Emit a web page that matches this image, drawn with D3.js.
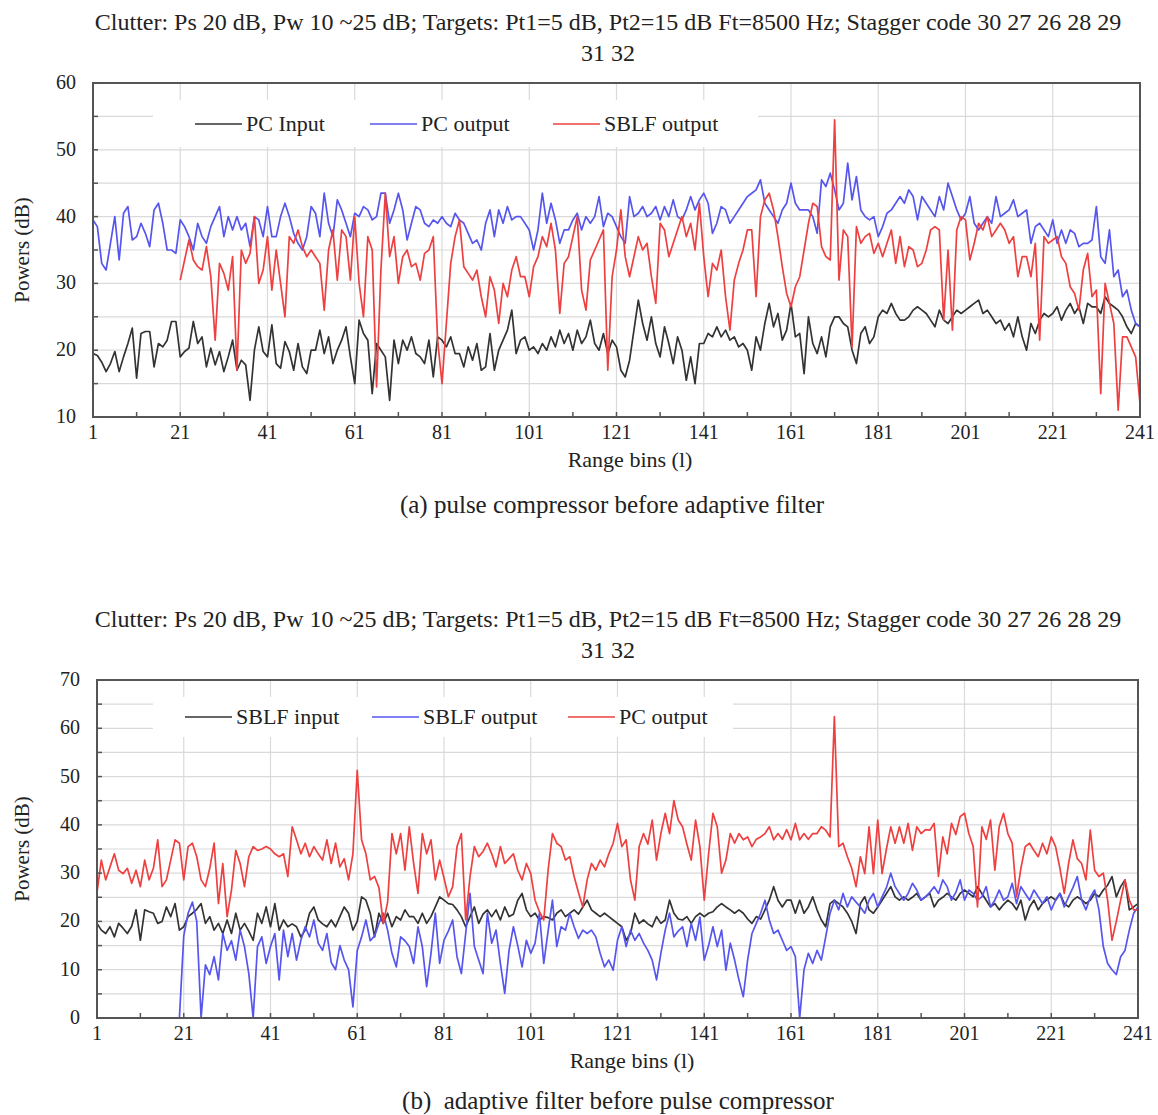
<!DOCTYPE html>
<html>
<head>
<meta charset="utf-8">
<script src="https://cdn.jsdelivr.net/npm/d3@7"></script>
<style>
  body { margin: 0; background: #fff; }
  svg text { font-family: 'Liberation Serif', 'Times New Roman', serif; fill: #222; }
</style>
</head>
<body>
<script>
// shared labels
const titleLine1 = 'Clutter: Ps 20 dB, Pw 10 ~25 dB; Targets: Pt1=5 dB, Pt2=15 dB Ft=8500 Hz; Stagger code 30 27 26 28 29';
const titleLine2 = '31 32';
const xTickLabels = [1, 21, 41, 61, 81, 101, 121, 141, 161, 181, 201, 221, 241];
const xName = 'Range bins (l)';
const yName = 'Powers (dB)';

// panel (a): pulse compressor before adaptive filter
const captionA = '(a) pulse compressor before adaptive filter';
const yTicksA = [10, 20, 30, 40, 50, 60];
const legendA = ['PC Input', 'PC output', 'SBLF output'];
const pcInputA = [
  19.5, 19.2, 18.2, 16.8, 18, 19.8, 16.8, 19, 21, 23.3,
  15.8, 22.5, 22.8, 22.8, 17.5, 21, 20.5, 21.5, 24.3, 24.3,
  19, 19.8, 20.3, 24.3, 21, 22, 17.5, 20.3, 17.8, 19.8,
  16.8, 19, 21.5, 17, 18.5, 17.8, 12.5, 20, 23.5, 19.8,
  19, 23.8, 18, 17.3, 21.3, 19.8, 17, 21, 17.5, 16.5,
  20, 20, 23, 19.5, 22, 18, 20, 21.5, 23.5, 19,
  15, 24.5, 22.5, 21.5, 13.5, 21, 20, 19, 12.5, 21.5,
  18, 21.5, 20, 22, 19.5, 19, 18, 21.5, 16, 22,
  21.5, 20.5, 22, 19.5, 19.5, 17.5, 20.5, 18.5, 21, 17,
  17.5, 22.5, 17, 20, 21.5, 23, 26, 19.5, 21.5, 22,
  20, 20.5, 19.5, 21, 20, 22, 20.5, 23, 21, 22.5,
  20, 23, 21, 22, 24.5, 21, 20, 22.5, 19.5, 21.5,
  20.5, 17, 16, 18.5, 23, 27.5, 24, 21.5, 25, 21,
  19, 23.5, 21, 18, 22, 20, 15.5, 19, 15, 21,
  21, 22.5, 22, 23.5, 22, 23, 21.5, 22, 20.5, 21,
  20, 17, 22, 20, 24, 27, 23.5, 25.5, 21.5, 23,
  27, 22, 22.5, 16.5, 25, 21, 19.5, 22, 19, 23.5,
  25, 25, 24, 23.5, 20, 18, 22.5, 23.5, 21, 22,
  25, 26, 25.5, 27, 25.5, 24.5, 24.5, 25, 26, 26.5,
  26, 25.5, 24.5, 23.5, 26, 24.5, 24, 25, 26, 25.5,
  26, 26.5, 27, 27.5, 25.5, 26, 25, 24, 24.5, 23,
  24, 22, 25, 22, 20, 24, 22.5, 24.5, 25.5, 25,
  25.5, 26.5, 24.5, 26, 27, 25.5, 26.5, 24, 27, 26.5,
  26.5, 25.5, 28, 27, 26.5, 26, 25, 23.5, 22.5, 24,
  23.5,
];
const pcOutputA = [
  39.5, 38.5, 33, 32, 36, 40, 33.5, 40.5, 41.5, 36.5,
  37, 39, 37.5, 35.5, 41, 42, 39, 35, 35, 34.5,
  39.5, 38.5, 37, 35, 39, 37, 36, 38.5, 40, 41.5,
  37, 40, 38, 40, 38, 39, 35.5, 40, 39.5, 37,
  41.5, 37, 37, 40, 42, 40, 37.5, 36, 35, 37,
  41.5, 40.5, 37, 43.5, 39, 37, 42.5, 41, 39, 37,
  40.5, 40, 41.5, 41, 39.5, 40, 43.5, 43.5, 39, 41,
  43.5, 41, 36.5, 39, 41.5, 41, 39, 38.5, 39.5, 39,
  40, 39, 38.5, 40.5, 39.5, 39, 37.5, 36, 36.5, 35,
  39, 41, 37, 41, 39, 41.5, 39.5, 40, 40, 39,
  38, 35, 38, 43.5, 39, 42, 39.5, 36, 38, 38,
  39.5, 40.5, 38, 40, 39, 40, 43, 38.5, 40.5, 40,
  38.5, 37, 36, 43, 40, 40.5, 41.5, 40, 40.5, 41.5,
  39.5, 41.5, 40, 42.5, 40, 39.5, 41, 43, 41, 42.5,
  43.5, 42, 37.5, 39, 41.5, 41, 39, 40, 41, 42,
  43, 43.5, 44, 45.5, 42, 41, 40, 39, 41, 42,
  45, 42, 41, 41, 41, 40, 37.5, 45.5, 44.5, 46.5,
  44, 41, 42, 48, 42.5, 46, 41, 40, 39.5, 40,
  37, 38.5, 40.5, 41, 42, 43, 42, 44, 43, 39.5,
  43, 42, 41, 40, 43, 41, 45, 43, 41, 39.5,
  40.5, 43, 39, 38, 39, 40, 39, 43, 40, 40.5,
  41, 42.5, 40, 40.5, 41, 36, 38.5, 39, 38, 37,
  39.5, 36, 38, 36, 38, 37.5, 35.5, 36, 36, 36.5,
  41.5, 34, 33, 38, 31, 32, 28, 29, 26, 24,
  23.5,
];
const sblfOutputA = [
  null, null, null, null, null, null, null, null, null, null,
  null, null, null, null, null, null, null, null, null, null,
  30.5, 33.5, 36.5, 33.5, 32.5, 32, 35.5, 31, 21.5, 33,
  31.5, 29, 34, 17, 35, 33, 34.5, 40, 30, 32,
  37, 29, 35, 30, 25, 37, 36, 38, 35.5, 34,
  35, 34, 33, 26, 35, 38, 30.5, 38, 37, 30.5,
  40, 30, 25, 37, 35, 14.5, 32, 43.5, 34, 37,
  30, 34, 35, 32.5, 33, 30.5, 34.5, 35, 37, 21.5,
  15, 24, 33, 37, 39.5, 32.5, 31.5, 30.5, 32, 28,
  25, 31, 29, 24, 30, 28, 32, 34, 31, 31,
  28, 32.5, 34, 37, 35.5, 39, 35, 25.5, 33, 34,
  37, 40, 29, 26, 33.5, 35, 36.5, 38, 17, 31,
  35, 41, 34, 31, 34, 37, 35, 36, 31, 27,
  39, 38, 34, 36, 38, 40, 37, 39, 35, 42,
  34, 28, 33, 32, 35, 28, 23, 30.5, 33, 35,
  38, 38, 28, 40, 42.5, 43.5, 41, 37, 32.5, 28.5,
  26.5, 29.5, 31, 35, 39, 42, 41.5, 35.5, 34, 33.5,
  54.5, 30.5, 38, 37, 20.5, 38.5, 36, 37, 37.5, 34.5,
  36, 34, 36, 38, 33, 37, 32.5, 35.5, 35, 32.5,
  33, 35, 38, 38.5, 38, 24.5, 35, 23, 38, 40,
  39.5, 33.5, 36, 39, 38, 40, 37, 38, 39, 38,
  36, 37, 31, 34, 34, 31, 36, 21.5, 37, 36,
  36.5, 37, 34, 33, 29.5, 28.5, 26, 32, 34.5, 28,
  29, 13.5, 30, 27, 24, 11, 22, 22, 20.5, 19,
  12,
];

// panel (b): adaptive filter before pulse compressor
const captionB = '(b)  adaptive filter before pulse compressor';
const yTicksB = [0, 10, 20, 30, 40, 50, 60, 70];
const legendB = ['SBLF input', 'SBLF output', 'PC output'];
const sblfInputB = [
  19.6, 18.2, 17.5, 18.9, 16.8, 19.6, 18.6, 17.5, 19, 22.4,
  16.1, 22.4, 22, 21.7, 19.6, 20, 23, 21, 23.7, 18.2,
  18.9, 21, 21.7, 22.5, 23.7, 19.6, 21, 18.2, 19.6, 17.5,
  20.3, 17.5, 21.7, 18.2, 19.6, 18, 16.1, 21.7, 19.6, 23,
  18.9, 23.7, 18.2, 20.3, 18.9, 19.5, 18.9, 16.8, 18.2, 21.7,
  23, 20.3, 19.5, 18.9, 20.3, 18.9, 21, 23, 21.7, 18.2,
  20, 25.1, 24.4, 21.7, 16.8, 21.7, 19.6, 21.7, 18.9, 21,
  20.3, 22.4, 21, 21, 19.6, 21.7, 19.6, 21, 23, 25.1,
  24.4, 23.7, 23.5, 22.4, 21, 18.9, 21, 23, 19.6, 21.5,
  22.4, 21, 22.4, 20.3, 23, 21, 21.5, 24.4, 25.8, 22.4,
  21, 21.7, 20.3, 21, 20.8, 20.3, 21.7, 22.4, 21, 21.7,
  22.4, 21.5, 23, 24.4, 22.4, 21.7, 21, 21.7, 21, 20.3,
  19.6, 18.9, 16.1, 17.5, 21.7, 19.6, 20.3, 19.5, 18.9, 21,
  19.6, 20.3, 24.4, 21.7, 20.5, 20.3, 21, 19.6, 21, 21.7,
  21, 21.7, 22, 23, 23.7, 23, 22.4, 21.7, 22.4, 21.7,
  20.5, 19.6, 21, 20.5, 22.4, 24.4, 27.2, 24.4, 23, 24.4,
  24.4, 21.7, 24.4, 21.7, 23, 25.1, 22.4, 20.3, 18.9, 23.7,
  24.4, 23.7, 23, 21.7, 20, 17.5, 23.7, 25.1, 22.4, 21.7,
  23, 24.4, 25.8, 27.2, 25.1, 24.4, 25.1, 24.4, 25, 25.8,
  24.4, 25.1, 25.8, 23, 24.4, 25, 25.8, 25.1, 24.4, 25.8,
  26.5, 25.8, 25.1, 27.2, 25.8, 24.4, 23, 23.7, 22.4, 23.5,
  24.4, 23.7, 22.4, 24.4, 20.3, 23, 24.4, 22.4, 23.7, 24.5,
  25.1, 24.4, 25.8, 23.7, 23, 24.4, 25.1, 24.5, 23.7, 24.4,
  25.8, 25.1, 26.5, 27.5, 29.3, 25.1, 27.2, 28.6, 22.4, 23,
  23.7,
];
const sblfOutputB = [
  0, 0, 0, 0, 0, 0, 0, 0, 0, 0,
  0, 0, 0, 0, 0, 0, 0, 0, 0, 0,
  17, 21.7, 24, 20, 0, 11, 9, 12.7, 7.9, 17.5,
  14, 16, 12, 18.2, 14.8, 9.2, 0, 14.8, 16.8, 11.3,
  14.8, 17.5, 7.9, 18.2, 12.7, 17.5, 12, 16.1, 18.9, 16.8,
  20.3, 15.5, 14, 17.5, 11.5, 10, 15, 12, 10, 2.3,
  14, 16.8, 20.3, 16, 17, 19.6, 21.7, 18.2, 13.4, 10.6,
  16.8, 16, 14.8, 11.3, 18.9, 14.8, 6.5, 13.4, 21.7, 11.3,
  16.1, 18, 20.3, 12.7, 9.2, 17.5, 25.8, 14.8, 12, 9.2,
  21.7, 15.5, 18.2, 11.3, 5.1, 14, 18.9, 15, 10.6, 16.1,
  13.4, 15.5, 21.7, 11.3, 18, 24.4, 14.8, 18.9, 18.2, 21.7,
  18.9, 16.5, 18.2, 17.5, 18.2, 16.8, 13.4, 10.6, 12, 9.9,
  16.1, 18.9, 14.8, 18.2, 16.1, 17.5, 15.5, 14, 12, 7.9,
  13.4, 18.2, 21.7, 16.8, 18, 18.9, 14.8, 19.6, 16.1, 20.9,
  12, 15, 18.9, 14.8, 18.2, 9.9, 15.5, 12, 7.9, 4.4,
  12, 17.5, 19.6, 21.7, 24.4, 20.3, 17.5, 18.2, 16.1, 14,
  14.8, 12.7, 0, 10, 13.4, 11.3, 14, 12, 16.8, 21.7,
  24.4, 22.4, 25.8, 23, 25.1, 24, 23, 21.7, 24.4, 25.8,
  23, 25.1, 27, 30, 27.2, 25.8, 24.4, 25.8, 27.9, 26.5,
  24.4, 25.1, 26, 27.2, 25.8, 28.6, 27.2, 24.4, 26, 28.6,
  24.4, 26.5, 25.8, 24.4, 25.1, 27.2, 23, 24.4, 26.5, 24.4,
  25.1, 27.9, 23.7, 27.2, 25.8, 24.4, 26.5, 25.1, 23.7, 25.1,
  22.4, 24.4, 25.8, 23, 25.1, 27, 29.3, 24.4, 22.4, 25,
  26.5, 22.4, 14.8, 11.3, 10, 9, 12.7, 14, 18.2, 21.7,
  23,
];
const pcOutputB = [
  26, 32.7, 28.6, 31.3, 34, 30.6, 29.9, 31, 27.9, 30.6,
  27.2, 32.7, 28.6, 31, 36.9, 27.2, 28.6, 32.7, 36.9, 36.2,
  28.6, 35.5, 36.2, 33.4, 28.6, 27.2, 31, 36.2, 23.7, 32,
  21, 26.5, 34.7, 32, 27.2, 33.4, 35.5, 34.7, 35, 35.5,
  35, 34, 33.4, 34, 29.3, 39.6, 36.9, 34, 36.2, 33.4,
  35.5, 34, 32.7, 36.9, 32, 36.2, 31.3, 33, 28.6, 34,
  51.3, 36.9, 34, 28.6, 29.3, 27, 19.6, 24, 38.2, 34,
  38.2, 30.6, 39.6, 32, 25.8, 38.2, 34, 36.9, 28.6, 32.7,
  29, 25.1, 27.2, 35.5, 38.2, 20.3, 29.3, 35.5, 33.4, 34.5,
  36.2, 34, 31.3, 35.5, 32, 33, 34, 30.6, 28.6, 32,
  29.9, 24.4, 22, 20.3, 30.6, 38.2, 36.2, 35.5, 32.7, 33.4,
  29.3, 26, 23, 28.6, 32, 30.6, 32.7, 31.3, 34, 36.2,
  40.3, 35.5, 36.9, 28.6, 24.4, 35.5, 38.2, 36, 41, 32.7,
  38.2, 42.4, 38.2, 45, 41, 39.6, 36, 32.7, 41, 35.5,
  24.4, 34, 42.4, 39.6, 30, 32.7, 38.2, 36.2, 38.2, 36.9,
  37.5, 35.5, 37, 37.5, 38.2, 39.6, 36.9, 38.2, 37, 39,
  36.9, 40.3, 36.9, 38.2, 37, 38.2, 38.2, 39.6, 38.9, 37.5,
  62.4, 35.5, 36.2, 33.4, 31, 27.2, 33.4, 29.9, 39.6, 29.9,
  41, 29.9, 35, 39.6, 36.2, 39.6, 36.2, 40.3, 34.7, 39.6,
  38.2, 39, 38.9, 40.3, 29.3, 37.5, 34, 40.3, 38, 41.7,
  42.4, 38.2, 35.5, 23, 39.6, 37, 41, 30.6, 39.6, 42.4,
  38.2, 36.2, 25.1, 31, 35.5, 36.2, 34.7, 33.4, 36.2, 34,
  37.5, 35.5, 31, 25.8, 32, 36.9, 33, 32, 28.6, 38.9,
  30.6, 29.3, 30, 24.4, 16.1, 20, 24.4, 28.6, 24.4, 22.4,
  22.4,
];

const colors = ['#333333', '#5656ee', '#ee4040'];

const width = 1158;
const height = 1115;

const svg = d3
  .select('body')
  .append('svg')
  .attr('width', width)
  .attr('height', height)
  .attr('viewBox', [0, 0, width, height]);

function drawPanel(p) {
  const g = svg.append('g');
  const x = d3.scaleLinear().domain([1, 241]).range([p.l, p.r]);
  const y = d3.scaleLinear().domain(d3.extent(p.yTicks)).range([p.b, p.t]);

  // title (two lines)
  g.append('text')
    .attr('x', p.cx)
    .attr('y', p.titleY)
    .attr('text-anchor', 'middle')
    .style('font-size', '24px')
    .text(titleLine1);
  g.append('text')
    .attr('x', p.cx)
    .attr('y', p.titleY + 31)
    .attr('text-anchor', 'middle')
    .style('font-size', '24px')
    .text(titleLine2);

  // grid every 5 dB and every 20 bins
  const yMinor = d3.range(p.yTicks[0] + 5, p.yTicks[p.yTicks.length - 1], 5);
  g.append('g')
    .selectAll('line')
    .data(yMinor)
    .join('line')
    .attr('x1', p.l)
    .attr('x2', p.r)
    .attr('y1', (d) => y(d))
    .attr('y2', (d) => y(d))
    .attr('stroke', '#dadada')
    .attr('stroke-width', 1.2);
  g.append('g')
    .selectAll('line')
    .data(xTickLabels.slice(1, -1))
    .join('line')
    .attr('x1', (d) => x(d))
    .attr('x2', (d) => x(d))
    .attr('y1', p.t)
    .attr('y2', p.b)
    .attr('stroke', '#dadada')
    .attr('stroke-width', 1.2);

  // white box behind the legend hides the grid
  g.append('rect')
    .attr('x', p.legendBox[0])
    .attr('y', p.legendBox[1])
    .attr('width', p.legendBox[2])
    .attr('height', p.legendBox[3])
    .attr('fill', '#fff');

  // series
  const line = d3
    .line()
    .defined((d) => d[1] != null)
    .x((d) => x(d[0]))
    .y((d) => y(d[1]));
  p.series.forEach((s, i) => {
    g.append('path')
      .datum(s.map((v, j) => [j + 1, v]))
      .attr('d', line)
      .attr('fill', 'none')
      .attr('stroke', colors[i])
      .attr('stroke-width', 1.7)
      .attr('stroke-linejoin', 'round');
  });

  // frame
  g.append('rect')
    .attr('x', p.l)
    .attr('y', p.t)
    .attr('width', p.r - p.l)
    .attr('height', p.b - p.t)
    .attr('fill', 'none')
    .attr('stroke', '#555')
    .attr('stroke-width', 2);

  // inward tick marks
  g.append('g')
    .selectAll('line')
    .data(d3.range(1, 242, 10))
    .join('line')
    .attr('x1', (d) => x(d))
    .attr('x2', (d) => x(d))
    .attr('y1', p.b)
    .attr('y2', p.b - 5)
    .attr('stroke', '#555')
    .attr('stroke-width', 1.5);
  g.append('g')
    .selectAll('line')
    .data(d3.range(p.yTicks[0], p.yTicks[p.yTicks.length - 1] + 1, 5))
    .join('line')
    .attr('x1', p.l)
    .attr('x2', p.l + 5)
    .attr('y1', (d) => y(d))
    .attr('y2', (d) => y(d))
    .attr('stroke', '#555')
    .attr('stroke-width', 1.5);

  // tick labels
  g.append('g')
    .selectAll('text')
    .data(xTickLabels)
    .join('text')
    .attr('x', (d) => x(d))
    .attr('y', p.b + 22)
    .attr('text-anchor', 'middle')
    .style('font-size', '20px')
    .text((d) => d);
  g.append('g')
    .selectAll('text')
    .data(p.yTicks)
    .join('text')
    .attr('x', p.l - 17)
    .attr('y', (d) => y(d) + 6)
    .attr('text-anchor', 'end')
    .style('font-size', '20px')
    .text((d) => d);

  // axis names
  g.append('text')
    .attr('x', p.xNameX)
    .attr('y', p.b + 50)
    .attr('text-anchor', 'middle')
    .style('font-size', '22px')
    .text(xName);
  g.append('text')
    .attr('transform', `translate(29, ${(p.t + p.b) / 2}) rotate(-90)`)
    .attr('text-anchor', 'middle')
    .style('font-size', '21px')
    .text(yName);

  // caption under the chart
  g.append('text')
    .attr('x', p.captionX)
    .attr('y', p.captionY)
    .attr('text-anchor', 'middle')
    .style('font-size', '25px')
    .style('white-space', 'pre')
    .text(p.caption);

  // legend
  const lg = g.append('g').selectAll('g').data(p.legend).join('g');
  lg.append('line')
    .attr('x1', (d, i) => p.legendX[i])
    .attr('x2', (d, i) => p.legendX[i] + 47)
    .attr('y1', p.legendY)
    .attr('y2', p.legendY)
    .attr('stroke', (d, i) => colors[i])
    .attr('stroke-width', 1.7);
  lg.append('text')
    .attr('x', (d, i) => p.legendX[i] + 51)
    .attr('y', p.legendY + 7)
    .style('font-size', '22px')
    .text((d) => d);
}

drawPanel({
  l: 93,
  r: 1140,
  t: 83,
  b: 417,
  cx: 608,
  titleY: 30,
  yTicks: yTicksA,
  series: [pcInputA, pcOutputA, sblfOutputA],
  legend: legendA,
  legendX: [195, 370, 553],
  legendY: 124,
  legendBox: [153, 100, 605, 47],
  xNameX: 630,
  caption: captionA,
  captionX: 612,
  captionY: 513,
});

drawPanel({
  l: 97,
  r: 1138,
  t: 680,
  b: 1018,
  cx: 608,
  titleY: 627,
  yTicks: yTicksB,
  series: [sblfInputB, sblfOutputB, pcOutputB],
  legend: legendB,
  legendX: [185, 372, 568],
  legendY: 717,
  legendBox: [153, 697, 580, 40],
  xNameX: 632,
  caption: captionB,
  captionX: 618,
  captionY: 1109,
});
</script>
</body>
</html>
